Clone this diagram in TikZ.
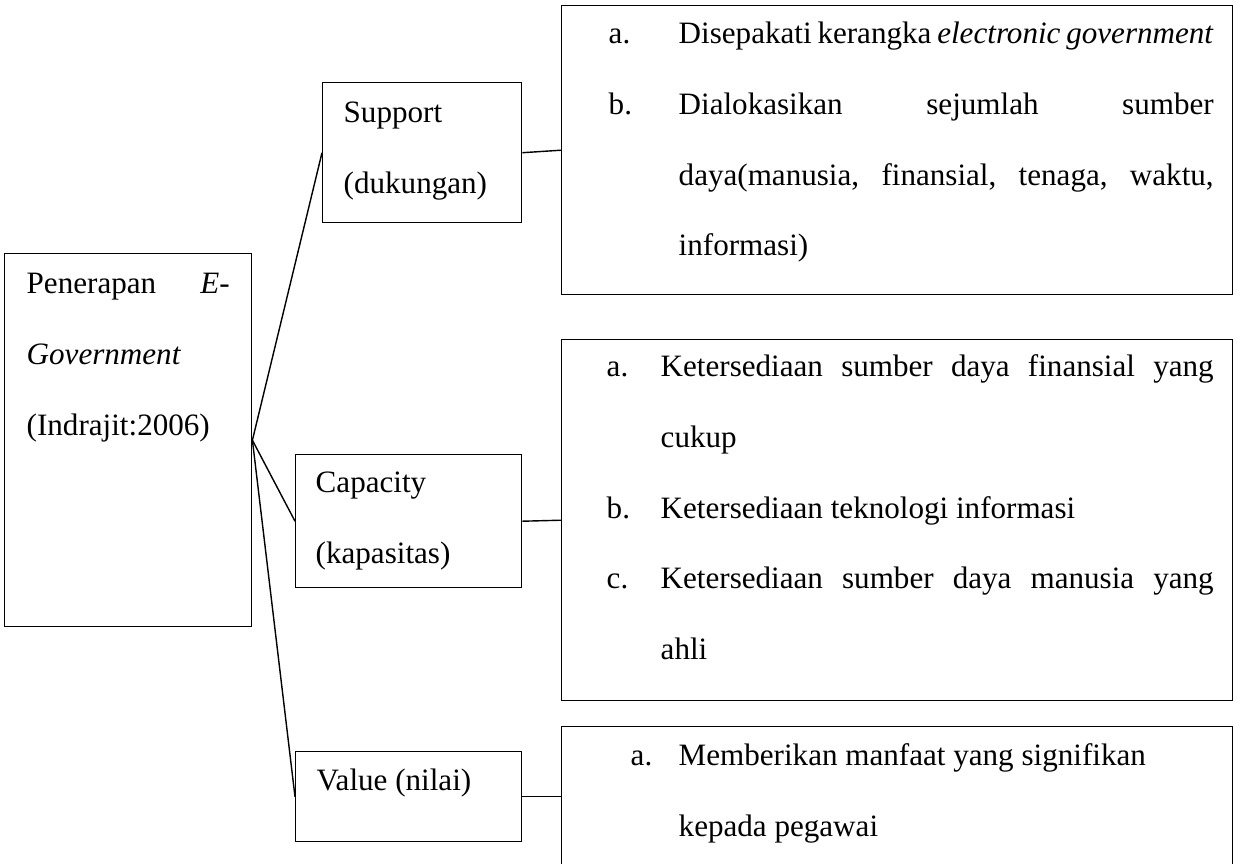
\documentclass[tikz,border=0pt]{standalone}
\usepackage{fontspec}
\setmainfont{Liberation Serif}
\usetikzlibrary{positioning}
\newlength{\px}
\setlength{\px}{0.02cm}
\tikzset{
    box/.style = {rectangle, draw=black, line width=0.8pt, inner sep=0pt, anchor=north west},
    link/.style = {draw=black, line width=0.8pt},
}
% width, height, first baseline, lines
\newcommand{\inbox}[4]{\parbox[c][#2\px][t]{#1\px}{\fontsize{17.7pt}{40.25pt}\selectfont\raggedright\noindent\rule{0pt}{#3\px}#4}}
\newcommand{\lbl}[2]{\makebox[#1\px][l]{#2}}

\begin{document}
\begin{tikzpicture}[x=0.02cm, y=-0.02cm]
\useasboundingbox (0,0) rectangle (1243,863);
\node[box] at (4,253) (gov) {\inbox{247}{373}{40}{%
  \hspace*{22\px}\makebox[203\px][s]{Penerapan \textit{E-}}\\
  \hspace*{22\px}\textit{Government}\\
  \hspace*{22\px}(Indrajit:2006)}};
\node[box] at (322,82) (sup) {\inbox{199}{140}{40}{%
  \hspace*{21\px}Support\\
  \hspace*{21\px}(dukungan)}};
\node[box] at (295,454) (cap) {\inbox{226}{133}{38}{%
  \hspace*{20\px}Capacity\\
  \hspace*{20\px}(kapasitas)}};
\node[box] at (295,751) (val) {\inbox{226}{90}{39}{%
  \hspace*{21\px}Value (nilai)}};
%
\node[box] at (561,5) (lsup) {\inbox{671}{289}{38}{%
  \hspace*{47\px}\lbl{70}{a.}\makebox[535\px][s]{Disepakati kerangka \textit{electronic government}}\\
  \hspace*{47\px}\lbl{70}{b.}\makebox[535\px][s]{Dialokasikan sejumlah sumber}\\
  \hspace*{117\px}\makebox[535\px][s]{daya(manusia, finansial, tenaga, waktu,}\\
  \hspace*{117\px}informasi)}};
\node[box] at (561,339) (lcap) {\inbox{671}{361}{37}{%
  \hspace*{45\px}\lbl{54}{a.}\makebox[553\px][s]{Ketersediaan sumber daya finansial yang}\\
  \hspace*{99\px}cukup\\
  \hspace*{45\px}\lbl{54}{b.}Ketersediaan teknologi informasi\\
  \hspace*{45\px}\lbl{54}{c.}\makebox[553\px][s]{Ketersediaan sumber daya manusia yang}\\
  \hspace*{99\px}ahli}};
\node[box] at (561,726) (lval) {\inbox{671}{142}{39}{%
  \hspace*{69\px}\lbl{48}{a.}Memberikan manfaat yang signifikan\\
  \hspace*{117\px}kepada pegawai}};
%
\draw[link] (gov.east) -- (sup.west);
\draw[link] (gov.east) -- (cap.west);
\draw[link] (gov.east) -- (val.west);
\draw[link] (sup.east) -- (lsup.west);
\draw[link] (cap.east) -- (lcap.west);
\draw[link] (val.east) -- (val.east -| lval.west);
\end{tikzpicture}
\end{document}
